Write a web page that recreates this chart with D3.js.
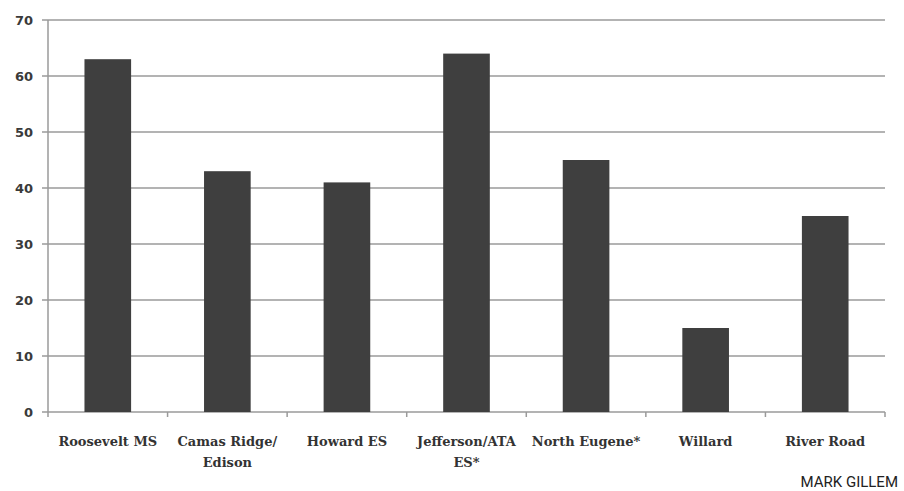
<!DOCTYPE html>
<html>
<head>
<meta charset="utf-8">
<script src="https://cdn.jsdelivr.net/npm/d3@7"></script>
<style>
  body { margin: 0; background: #fff; }
</style>
</head>
<body>
<svg id="chart" width="904" height="491"></svg>
<script>
const schools = ["Roosevelt MS", "Camas Ridge/ Edison", "Howard ES", "Jefferson/ATA ES*", "North Eugene*", "Willard", "River Road"];
const values = [63, 43, 41, 64, 45, 15, 35];
const yTicks = [0, 10, 20, 30, 40, 50, 60, 70];

const svg = d3.select("#chart");
const margin = { top: 20, right: 19, bottom: 79, left: 48 };
const width = +svg.attr("width");
const height = +svg.attr("height");
const chartWidth = width - margin.left - margin.right;
const chartHeight = height - margin.top - margin.bottom;

const g = svg.append("g")
  .attr("transform", `translate(${margin.left}, ${margin.top})`);

const x = d3.scaleBand()
  .domain(schools)
  .range([0, chartWidth])
  .paddingInner(0.61)
  .paddingOuter(0.305);

const y = d3.scaleLinear()
  .domain([0, 70])
  .range([chartHeight, 0]);

// gridlines
g.selectAll(".grid")
  .data(yTicks)
  .enter()
  .append("line")
  .attr("x1", -6)
  .attr("x2", chartWidth)
  .attr("y1", d => y(d))
  .attr("y2", d => y(d))
  .attr("stroke", "#9a9a9a")
  .attr("stroke-width", 1.5);

// y labels
g.selectAll(".ylab")
  .data(yTicks)
  .enter()
  .append("text")
  .attr("x", -15)
  .attr("y", d => y(d))
  .attr("dy", "0.35em")
  .attr("text-anchor", "end")
  .attr("font-family", "DejaVu Sans, sans-serif")
  .attr("font-weight", "bold")
  .attr("font-size", "13px")
  .attr("fill", "#3a3a3a")
  .text(d => d);

// left axis line
g.append("line")
  .attr("x1", 0).attr("x2", 0)
  .attr("y1", 0).attr("y2", chartHeight)
  .attr("stroke", "#9a9a9a")
  .attr("stroke-width", 1.5);

// bottom ticks between categories
const edges = d3.range(schools.length + 1).map(i => i * chartWidth / schools.length);
g.selectAll(".xtick")
  .data(edges)
  .enter()
  .append("line")
  .attr("x1", d => d).attr("x2", d => d)
  .attr("y1", chartHeight).attr("y2", chartHeight + 5)
  .attr("stroke", "#9a9a9a")
  .attr("stroke-width", 1.5);

// bars
g.selectAll(".bar")
  .data(schools)
  .enter()
  .append("rect")
  .attr("class", "bar")
  .attr("x", d => x(d))
  .attr("y", (d, i) => y(values[i]))
  .attr("width", x.bandwidth())
  .attr("height", (d, i) => y(0) - y(values[i]))
  .attr("fill", "#3f3f3f");

// x labels
const labelLines = {
  "Camas Ridge/ Edison": ["Camas Ridge/", "Edison"],
  "Jefferson/ATA ES*": ["Jefferson/ATA", "ES*"]
};
const xl = g.selectAll(".xlab")
  .data(schools)
  .enter()
  .append("text")
  .attr("x", d => x(d) + x.bandwidth() / 2)
  .attr("y", chartHeight + 34)
  .attr("text-anchor", "middle")
  .attr("font-family", "DejaVu Serif, serif")
  .attr("font-weight", "bold")
  .attr("font-size", "13px")
  .attr("fill", "#333");

xl.each(function (d) {
  const lines = labelLines[d] || [d];
  const t = d3.select(this);
  lines.forEach((line, i) => {
    t.append("tspan")
      .attr("x", x(d) + x.bandwidth() / 2)
      .attr("dy", i === 0 ? 0 : "1.65em")
      .text(line);
  });
});

// credit
svg.append("text")
  .attr("x", 898)
  .attr("y", 487)
  .attr("text-anchor", "end")
  .attr("font-family", "Roboto, sans-serif")
  .attr("font-size", "15px")
  .attr("fill", "#222")
  .text("MARK GILLEM");
</script>
</body>
</html>
